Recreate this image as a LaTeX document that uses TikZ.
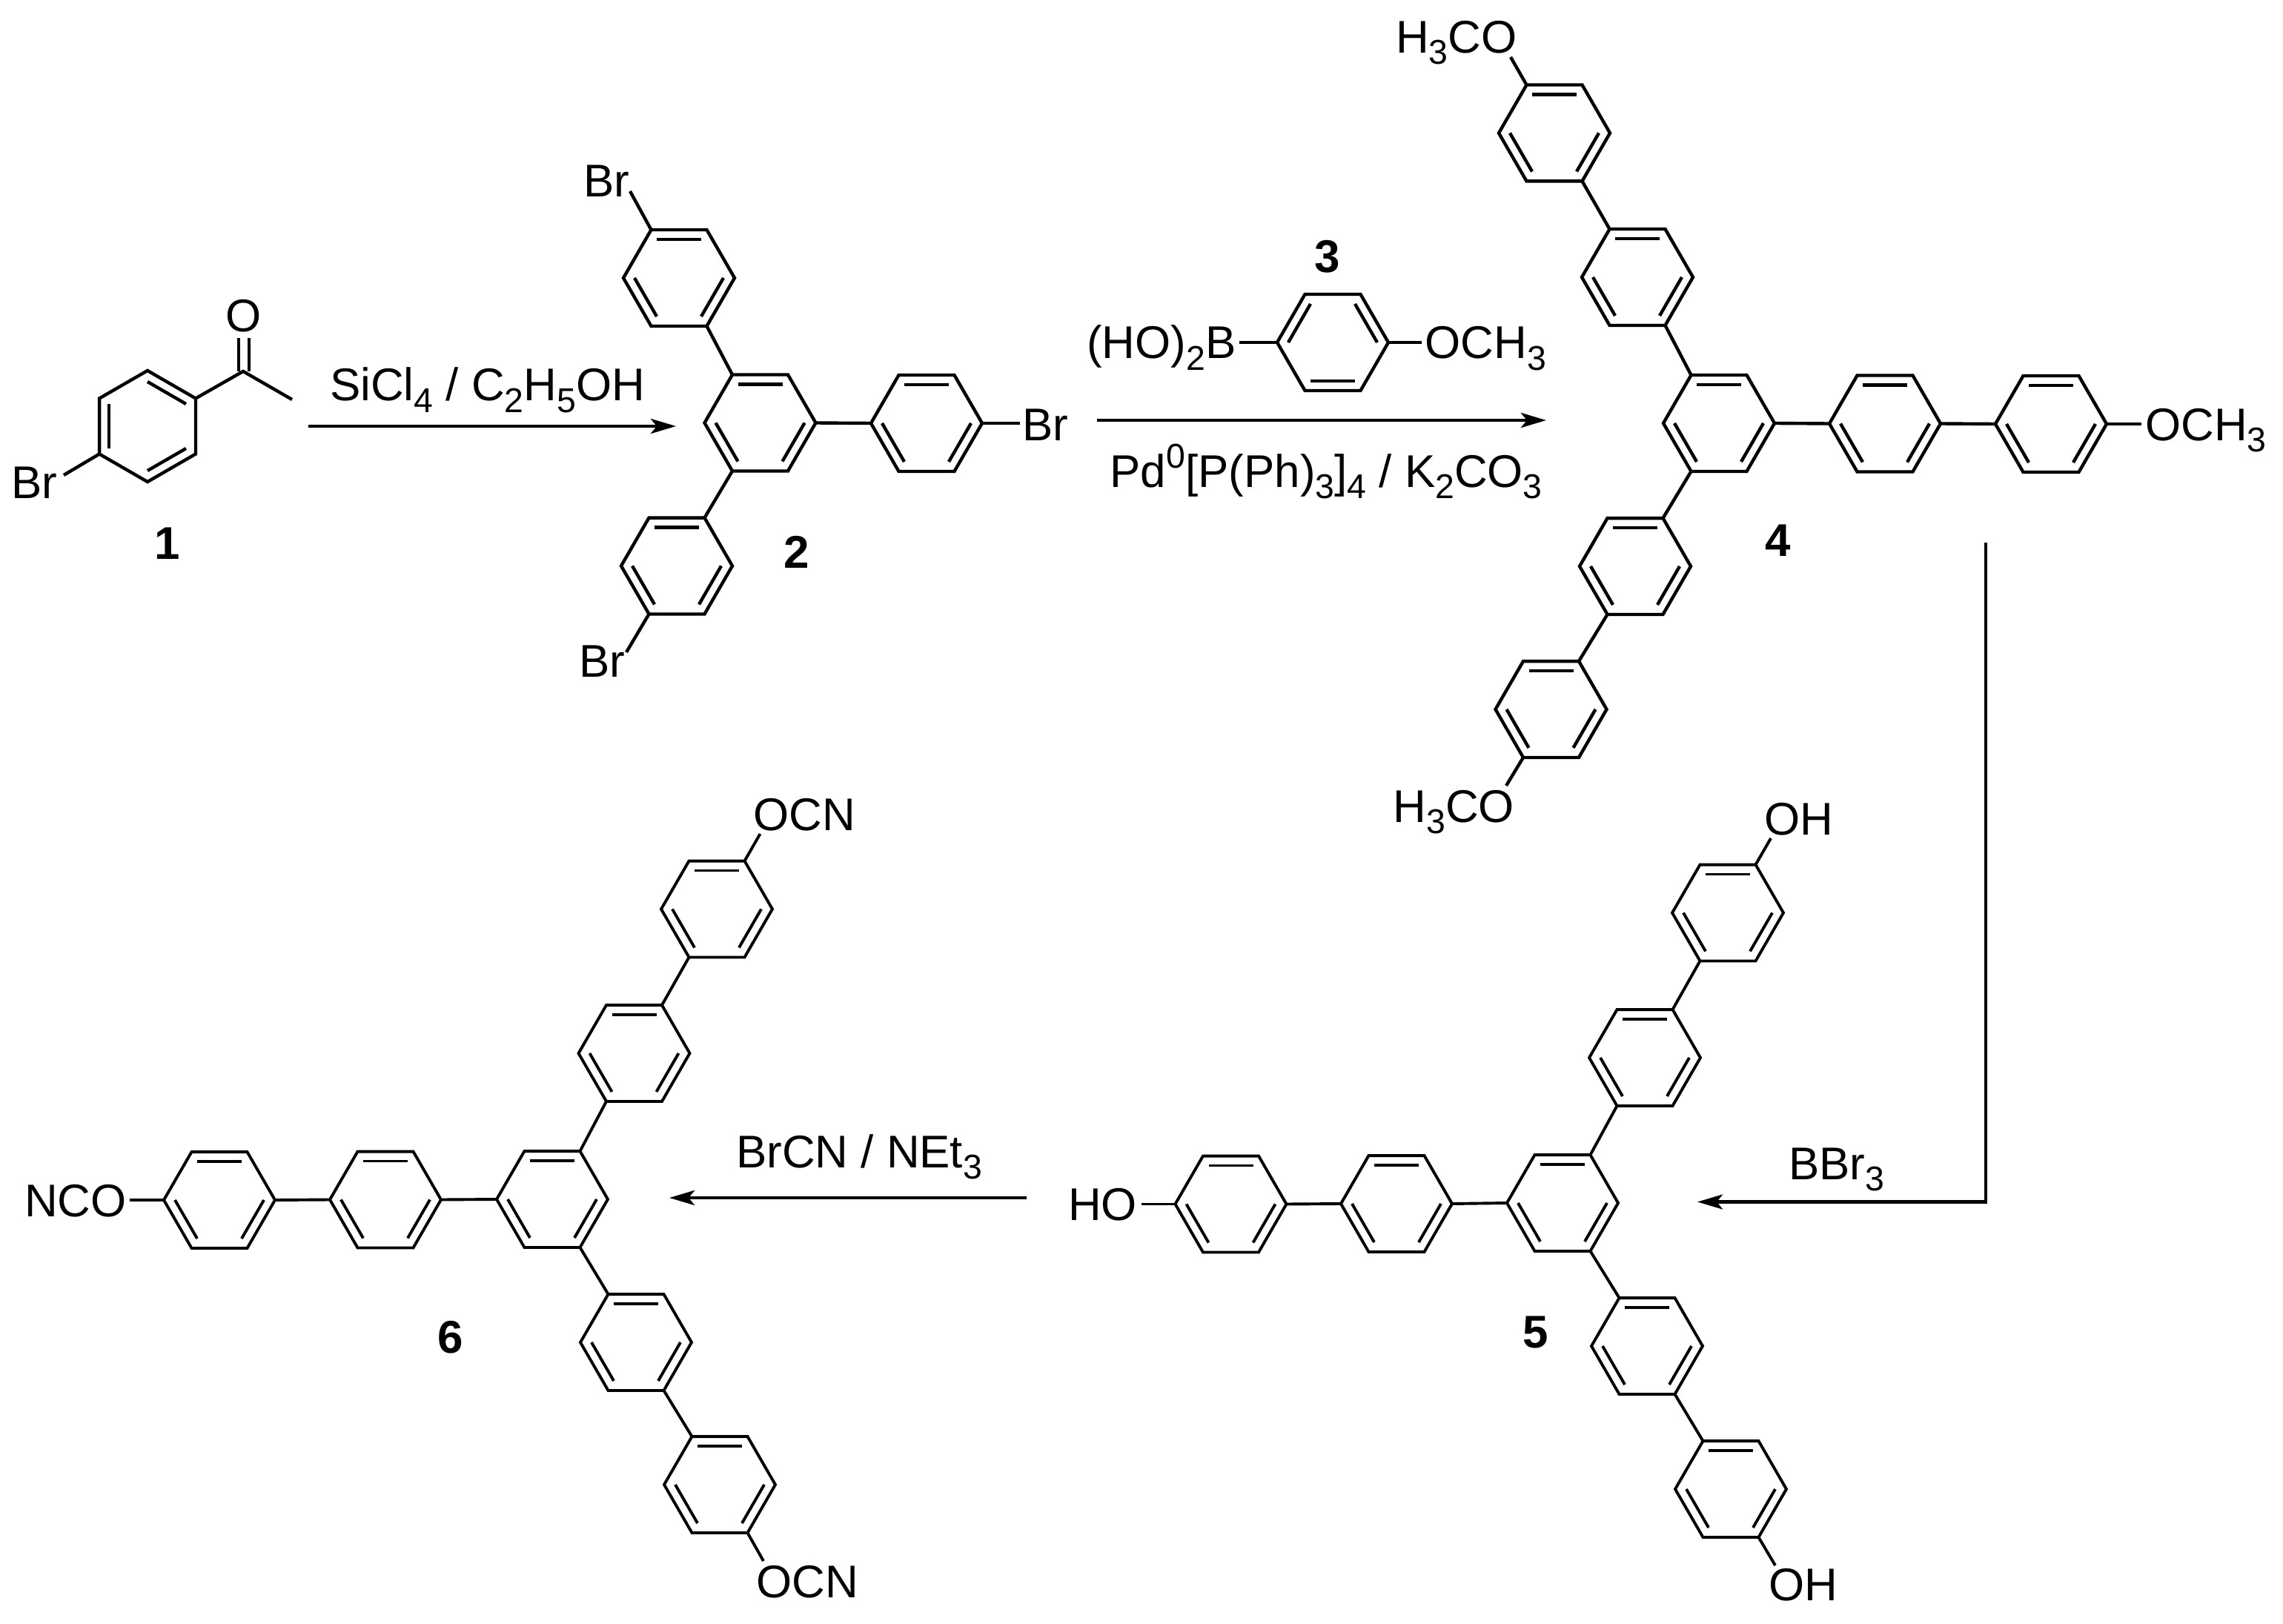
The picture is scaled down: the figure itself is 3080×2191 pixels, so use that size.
\documentclass[tikz,border=0pt]{standalone}
\usepackage{fontspec}
\setmainfont{Liberation Sans}
\usetikzlibrary{calc,arrows.meta}
\def\lowidx#1{\raisebox{-0.25em}{\scalebox{0.75}{#1}}}
\def\upidx#1{\raisebox{0.42em}{\scalebox{0.75}{#1}}}
\def\benzene[#1](#2,#3:#4)(#5){
	\coordinate (#1) at (#2,#3);
	\foreach \k in {1,...,6} {\coordinate (#1\k) at ($(#2,#3)+({\k*60-180+#4}:75)$);}
	\draw[bond] (#11) -- (#12) -- (#13) -- (#14) -- (#15) -- (#16) -- cycle;
	\foreach \i/\j in {#5} {\draw[bond] ($(#1)!0.8!(#1\i)$) -- ($(#1)!0.8!(#1\j)$);}
}
\tikzset{
	bond/.style={line width=0.044cm},
	atom/.style={inner sep=0pt, anchor=base west, xshift=-0.035cm, font=\fontsize{17.6}{20}\selectfont},
	cpd/.style={inner sep=0pt, anchor=base, font=\fontsize{17.6}{20}\selectfont\bfseries},
	rxn/.style={line width=0.042cm, -{Stealth[length=0.34cm,width=0.2cm,inset=0.08cm]}}
}

\begin{document}
\begin{tikzpicture}[x=0.01cm, y=-0.01cm]
	\path[use as bounding box, fill=white] (0,0) rectangle (3080,2191);

	%%%%% compound 1 %%%%%
	\benzene[ra](199,575:30)(1/2,3/4,5/6)
	\node[atom] (brA) at (18,672) {Br};
	\node[atom, anchor=base] (oxA) at (332.5,448) {O};
	\node[cpd] (numA) at (226,754) {1};
	\coordinate (brAend) at (86,641);
	\coordinate (carbA) at (328,501);
	\coordinate (methA) at (394,539);
	\coordinate (dblAl) at (322,456);
	\coordinate (dblAr) at (336,456);
	\draw[bond] (ra5) -- (brAend);
	\draw[bond] (ra2) -- (carbA) -- (methA);
	\draw[bond] (dblAl) -- (dblAl |- carbA);
	\draw[bond] (dblAr) -- (dblAr |- carbA);

	\node[atom] (siCl) at (448,541) {SiCl\lowidx{4} / C\lowidx{2}H\lowidx{5}OH};
	\coordinate (arrAs) at (416,575);
	\coordinate (arrAe) at (912,575);
	\draw[rxn] (arrAs) -- (arrAe);

	%%%%% compound 2 %%%%%
	\benzene[rb](1025.5,570.5:0)(1/2,3/4,5/6)
	\benzene[rbt](916,375:0)(1/2,3/4,5/6)
	\benzene[rbb](913,763.5:0)(1/2,3/4,5/6)
	\benzene[rbr](1250,571:0)(1/2,3/4,5/6)
	\draw[bond] (rb1) -- (rbt4);
	\draw[bond] (rb5) -- (rbb2);
	\draw[bond] (rb3) -- (rbr6);
	\node[atom] (brBt) at (790,266) {Br};
	\node[atom] (brBb) at (784,913) {Br};
	\node[atom] (brBr) at (1382.5,594) {Br};
	\node[cpd] (numB) at (1075,766) {2};
	\coordinate (brBtend) at (850,258);
	\coordinate (brBbend) at (845,880);
	\coordinate (brBrend) at (1375.5,571);
	\draw[bond] (rbt1) -- (brBtend);
	\draw[bond] (rbb5) -- (brBbend);
	\draw[bond] (rbr3) -- (brBrend);

	%%%%% compound 3 and its arrow %%%%%
	\benzene[rc](1798,462:0)(2/3,4/5,6/1)
	\node[cpd] (numC) at (1791,367) {3};
	\node[atom] (boron) at (1469,484) {(HO)\lowidx{2}B};
	\node[atom] (ometC) at (1925.5,484) {OCH\lowidx{3}};
	\coordinate (boronend) at (1672,462);
	\coordinate (ometCend) at (1918,462);
	\draw[bond] (rc6) -- (boronend);
	\draw[bond] (rc3) -- (ometCend);
	\node[atom] (palla) at (1500.5,657) {Pd\upidx{0}[P(Ph)\lowidx{3}]\lowidx{4} / K\lowidx{2}CO\lowidx{3}};
	\coordinate (arrBs) at (1480,567);
	\coordinate (arrBe) at (2086,567);
	\draw[rxn] (arrBs) -- (arrBe);

	%%%%% compound 4 %%%%%
	\benzene[rd](2319,571:0)(1/2,3/4,5/6)
	\benzene[rdu](2209,374:0)(1/2,3/4,5/6)
	\benzene[rdt](2097,179.5:0)(1/2,3/4,5/6)
	\benzene[rdl](2206,764:0)(1/2,3/4,5/6)
	\benzene[rdb](2092.5,957:0)(1/2,3/4,5/6)
	\benzene[rdr](2543,571.5:0)(1/2,3/4,5/6)
	\benzene[rdf](2767,572:0)(1/2,3/4,5/6)
	\draw[bond] (rd1) -- (rdu4);
	\draw[bond] (rdu1) -- (rdt4);
	\draw[bond] (rd5) -- (rdl2);
	\draw[bond] (rdl5) -- (rdb2);
	\draw[bond] (rd3) -- (rdr6);
	\draw[bond] (rdr3) -- (rdf6);
	\node[atom] (ometDt) at (1886,71.5) {H\lowidx{3}CO};
	\node[atom] (ometDb) at (1882.5,1109) {H\lowidx{3}CO};
	\node[atom] (ometDr) at (2897,594.5) {OCH\lowidx{3}};
	\node[cpd] (numD) at (2399,750) {4};
	\coordinate (ometDtend) at (2038,77);
	\coordinate (ometDbend) at (2032,1060);
	\coordinate (ometDrend) at (2889,572);
	\draw[bond] (rdt1) -- (ometDtend);
	\draw[bond] (rdb5) -- (ometDbend);
	\draw[bond] (rdf3) -- (ometDrend);

	\coordinate (arrCs) at (2679,732);
	\coordinate (arrCe) at (2290,1621.5);
	\draw[rxn] (arrCs) |- (arrCe);
	\node[atom] (bbr) at (2416,1591) {BBr\lowidx{3}};

	\begin{scope}[bond/.append style={line width=0.039cm}]
		%%%%% compound 5 %%%%%
		\benzene[re](2108,1623:0)(1/2,3/4,5/6)
		\benzene[rel](1884,1624:0)(1/2,3/4,5/6)
		\benzene[ref](1660.5,1624.5:0)(1/2,3/4,5/6)
		\benzene[reu](2219,1427:0)(1/2,3/4,5/6)
		\benzene[ret](2331,1231.5:0)(1/2,3/4,5/6)
		\benzene[red](2222,1816:0)(1/2,3/4,5/6)
		\benzene[reb](2335,2009:0)(1/2,3/4,5/6)
		\draw[bond] (re6) -- (rel3);
		\draw[bond] (rel6) -- (ref3);
		\draw[bond] (re2) -- (reu5);
		\draw[bond] (reu2) -- (ret5);
		\draw[bond] (re4) -- (red1);
		\draw[bond] (red4) -- (reb1);
		\node[atom] (ohEt) at (2383,1126) {OH};
		\node[atom] (ohEb) at (2389,2159.5) {OH};
		\node[atom] (ohEl) at (1444,1646) {HO};
		\node[cpd] (numE) at (2072,1818) {5};
		\coordinate (ohEtend) at (2389,1131);
		\coordinate (ohEbend) at (2395,2112);
		\coordinate (ohElend) at (1540,1624.5);
		\draw[bond] (ret2) -- (ohEtend);
		\draw[bond] (reb4) -- (ohEbend);
		\draw[bond] (ref6) -- (ohElend);

		%%%%% compound 6 %%%%%
		\benzene[rf](745,1618:0)(1/2,3/4,5/6)
		\benzene[rfl](520,1618.5:0)(1/2,3/4,5/6)
		\benzene[rff](296,1619:0)(1/2,3/4,5/6)
		\benzene[rfu](855.5,1421:0)(1/2,3/4,5/6)
		\benzene[rft](967,1226.5:0)(1/2,3/4,5/6)
		\benzene[rfd](858,1811:0)(1/2,3/4,5/6)
		\benzene[rfb](971,2003:0)(1/2,3/4,5/6)
		\draw[bond] (rf6) -- (rfl3);
		\draw[bond] (rfl6) -- (rff3);
		\draw[bond] (rf2) -- (rfu5);
		\draw[bond] (rfu2) -- (rft5);
		\draw[bond] (rf4) -- (rfd1);
		\draw[bond] (rfd4) -- (rfb1);
		\node[atom] (ocnFt) at (1019,1120) {OCN};
		\node[atom] (ocnFb) at (1023,2155.5) {OCN};
		\node[atom] (ocnFl) at (36,1641.5) {NCO};
		\node[cpd] (numF) at (607.5,1825) {6};
		\coordinate (ocnFtend) at (1025.5,1125);
		\coordinate (ocnFbend) at (1030,2106);
		\coordinate (ocnFlend) at (174.5,1619);
		\draw[bond] (rft2) -- (ocnFtend);
		\draw[bond] (rfb4) -- (ocnFbend);
		\draw[bond] (rff6) -- (ocnFlend);
	\end{scope}

	\node[atom] (brcn) at (996,1575) {BrCN / NEt\lowidx{3}};
	\coordinate (arrDs) at (1385,1616);
	\coordinate (arrDe) at (903,1616);
	\draw[rxn] (arrDs) -- (arrDe);
\end{tikzpicture}
\end{document}
